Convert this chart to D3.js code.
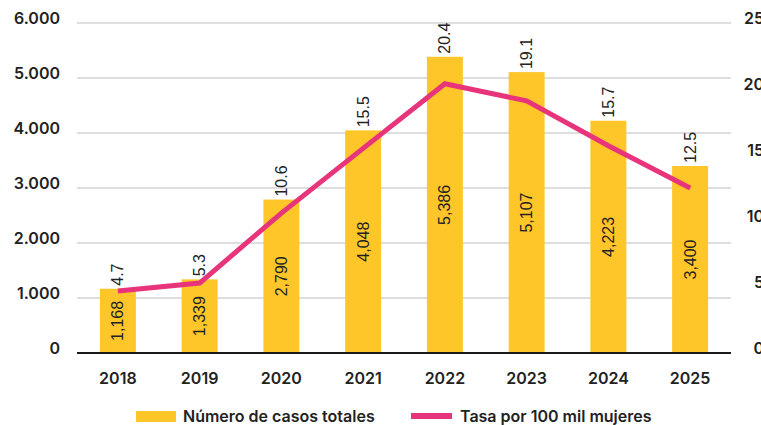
<!DOCTYPE html>
<html>
<head>
<meta charset="utf-8">
<script src="https://cdn.jsdelivr.net/npm/d3@7"></script>
<style>
  body { margin: 0; background: #fff; }
  svg text { font-family: Inter, "Noto Sans", sans-serif; fill: #222; }
  svg text.val { font-family: "Liberation Sans", Arial, sans-serif; }
</style>
</head>
<body>
<script>
// data
const years = ["2018", "2019", "2020", "2021", "2022", "2023", "2024", "2025"];
const casos = [1168, 1339, 2790, 4048, 5386, 5107, 4223, 3400];
const tasa = [4.7, 5.3, 10.6, 15.5, 20.4, 19.1, 15.7, 12.5];
const leftTicks = [0, 1000, 2000, 3000, 4000, 5000, 6000];
const rightTicks = [0, 5, 10, 15, 20, 25];

const WIDTH = 761, HEIGHT = 425;
const MARGIN = { TOP: 23, BOTTOM: 72, LEFT: 77, RIGHT: 30 };

const BAR_COLOR = "#FFC629";
const LINE_COLOR = "#E8347A";

const svg = d3.select("body").append("svg")
    .attr("width", WIDTH)
    .attr("height", HEIGHT);

const x = d3.scaleBand()
    .domain(years)
    .range([MARGIN.LEFT, WIDTH - MARGIN.RIGHT])
    .paddingInner(0.56)
    .paddingOuter(0.28);

const yLeft = d3.scaleLinear()
    .domain([0, 6000])
    .range([HEIGHT - MARGIN.BOTTOM, MARGIN.TOP]);

const yRight = d3.scaleLinear()
    .domain([0, 25])
    .range([HEIGHT - MARGIN.BOTTOM, MARGIN.TOP]);

const fmtLeft = v => d3.format(",")(v).replace(/,/g, ".");

// gridlines
svg.append("g")
    .selectAll("line")
    .data(leftTicks.filter(d => d > 0))
    .enter()
    .append("line")
    .attr("x1", MARGIN.LEFT)
    .attr("x2", WIDTH - MARGIN.RIGHT)
    .attr("y1", d => yLeft(d))
    .attr("y2", d => yLeft(d))
    .attr("stroke", "#bdbdbd")
    .attr("stroke-width", 1);

// left axis labels
svg.append("g")
    .selectAll("text")
    .data(leftTicks)
    .enter()
    .append("text")
    .attr("x", 60)
    .attr("y", d => yLeft(d))
    .attr("dy", "0.05em")
    .attr("text-anchor", "end")
    .style("font-size", "16px")
    .style("font-weight", 600)
    .text(fmtLeft);

// right axis labels (cut off at the edge, like the original)
svg.append("g")
    .selectAll("text")
    .data(rightTicks)
    .enter()
    .append("text")
    .attr("x", 764)
    .attr("y", d => yRight(d))
    .attr("dy", "0.05em")
    .attr("text-anchor", "end")
    .style("font-size", "16px")
    .style("font-weight", 600)
    .text(d => d);

// bars
svg.append("g")
    .selectAll("rect")
    .data(casos)
    .enter()
    .append("rect")
    .attr("x", (d, i) => x(years[i]))
    .attr("width", x.bandwidth())
    .attr("y", d => yLeft(d))
    .attr("height", d => yLeft(0) - yLeft(d))
    .attr("fill", BAR_COLOR);

// baseline
svg.append("line")
    .attr("x1", MARGIN.LEFT)
    .attr("x2", WIDTH - MARGIN.RIGHT)
    .attr("y1", yLeft(0))
    .attr("y2", yLeft(0))
    .attr("stroke", "#1a1a1a")
    .attr("stroke-width", 2);

// line
const line = d3.line()
    .x((d, i) => x(years[i]) + x.bandwidth() / 2)
    .y(d => yRight(d));

svg.append("path")
    .datum(tasa)
    .attr("d", line)
    .attr("fill", "none")
    .attr("stroke", LINE_COLOR)
    .attr("stroke-width", 5)
    .attr("stroke-linejoin", "miter");

// value labels inside bars
svg.append("g")
    .selectAll("text")
    .data(casos)
    .enter()
    .append("text")
    .attr("class", "val")
    .attr("transform", (d, i) => {
        const cx = x(years[i]) + x.bandwidth() / 2;
        const cy = (yLeft(d) + yLeft(0)) / 2;
        return `translate(${cx},${cy}) rotate(-90)`;
    })
    .attr("text-anchor", "middle")
    .attr("dy", "0.35em")
    .style("font-size", "16px")
    .text(d => d3.format(",")(d));

// rate labels above bars
svg.append("g")
    .selectAll("text")
    .data(tasa)
    .enter()
    .append("text")
    .attr("class", "val")
    .attr("transform", (d, i) => {
        const cx = x(years[i]) + x.bandwidth() / 2;
        const cy = yLeft(casos[i]) - 3;
        return `translate(${cx},${cy}) rotate(-90)`;
    })
    .attr("text-anchor", "start")
    .attr("dy", "0.35em")
    .style("font-size", "16px")
    .text(d => d.toFixed(1));

// x labels
svg.append("g")
    .selectAll("text")
    .data(years)
    .enter()
    .append("text")
    .attr("x", d => x(d) + x.bandwidth() / 2)
    .attr("y", 384)
    .attr("text-anchor", "middle")
    .style("font-size", "16px")
    .style("font-weight", 600)
    .text(d => d);

// legend
const legend = svg.append("g");
legend.append("rect")
    .attr("x", 136).attr("y", 411)
    .attr("width", 40).attr("height", 11)
    .attr("fill", BAR_COLOR);
legend.append("text")
    .attr("x", 183).attr("y", 422)
    .style("font-size", "16px")
    .style("font-weight", 600)
    .text("Número de casos totales");
legend.append("rect")
    .attr("x", 411).attr("y", 413)
    .attr("width", 41).attr("height", 6)
    .attr("fill", LINE_COLOR);
legend.append("text")
    .attr("x", 460).attr("y", 422)
    .style("font-size", "16px")
    .style("font-weight", 600)
    .text("Tasa por 100 mil mujeres");
</script>
</body>
</html>
